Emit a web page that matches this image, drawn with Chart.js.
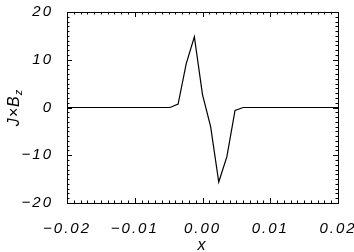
<!DOCTYPE html>
<html>
<head>
<meta charset="utf-8">
<script src="https://cdn.jsdelivr.net/npm/chart.js@4/dist/chart.umd.min.js"></script>
<style>
  html, body { margin: 0; padding: 0; background: #fff; }
  #wrap { width: 354px; height: 252px; }
</style>
</head>
<body>
<div id="wrap"><canvas id="jxbChart"></canvas></div>
<script>
// positions along x and the J x B_z values
const xValues = [-0.02, -0.0048, -0.0036, -0.0024, -0.0012, 0, 0.0012, 0.0024, 0.0036, 0.0048, 0.006, 0.02];
const jxbValues = [0, 0, 0.7, 9.2, 14.8, 2.7, -4, -15.6, -10.3, -0.6, 0, 0];

const xTicks = [-0.02, -0.01, 0, 0.01, 0.02];
const yTicks = [-20, -10, 0, 10, 20];

const fontFamily = '"Liberation Sans", Arial, sans-serif';

function fmt(v, digits) {
    if (Math.abs(v) < 1e-9) v = 0;
    const s = Math.abs(v).toFixed(digits);
    return v < 0 ? '\u2212' + s : s;
}

// IDL style: letter spaced labels, box frame with inward ticks on all sides
const idlStyle = {
    id: 'idlStyle',
    beforeLayout(chart) { chart.ctx.letterSpacing = '2px'; },
    beforeDraw(chart) { chart.ctx.letterSpacing = '2px'; },
    afterDraw(chart) {
        const ctx = chart.ctx;
        const a = chart.chartArea;
        const xs = chart.scales.x;
        const ys = chart.scales.y;
        ctx.save();
        ctx.strokeStyle = '#000';
        ctx.lineWidth = 1;
        ctx.strokeRect(Math.round(a.left) + 0.5, Math.round(a.top) + 0.5,
            Math.round(a.right - a.left), Math.round(a.bottom - a.top));

        ctx.beginPath();
        for (let i = -20; i <= 20; i++) {
            const px = Math.round(xs.getPixelForValue(i / 1000)) + 0.5;
            const len = (i % 10 === 0) ? 5 : 2.5;
            ctx.moveTo(px, a.bottom); ctx.lineTo(px, a.bottom - len);
            ctx.moveTo(px, a.top); ctx.lineTo(px, a.top + len);
        }
        for (let v = -20; v <= 20; v++) {
            const py = Math.round(ys.getPixelForValue(v)) + 0.5;
            const len = (v % 10 === 0) ? 5 : 2.5;
            ctx.moveTo(a.left, py); ctx.lineTo(a.left + len, py);
            ctx.moveTo(a.right, py); ctx.lineTo(a.right - len, py);
        }
        ctx.stroke();

        // y title J×B with subscript z
        ctx.letterSpacing = '1px';
        ctx.fillStyle = '#000';
        ctx.translate(13, (a.top + a.bottom) / 2);
        ctx.rotate(-Math.PI / 2);
        ctx.font = 'italic 16px ' + fontFamily;
        ctx.textBaseline = 'alphabetic';
        const main = 'J\u00d7B';
        const w1 = ctx.measureText(main).width;
        ctx.font = 'italic 11px ' + fontFamily;
        const w2 = ctx.measureText('z').width;
        const x0 = -(w1 + w2) / 2;
        ctx.font = 'italic 16px ' + fontFamily;
        ctx.fillText(main, x0, 6);
        ctx.font = 'italic 11px ' + fontFamily;
        ctx.fillText('z', x0 + w1, 9);
        ctx.restore();
    }
};

new Chart(document.getElementById('jxbChart'), {
    type: 'scatter',
    data: {
        datasets: [{
            data: xValues.map((x, i) => ({ x: x, y: jxbValues[i] })),
            showLine: true,
            borderColor: '#000',
            borderWidth: 1.2,
            pointRadius: 0,
            fill: false,
            tension: 0
        }]
    },
    options: {
        responsive: true,
        maintainAspectRatio: false,
        animation: false,
        layout: { padding: { left: 0, top: 12, right: 16, bottom: 0 } },
        plugins: { legend: { display: false }, tooltip: { enabled: false } },
        scales: {
            x: {
                type: 'linear',
                min: -0.02,
                max: 0.02,
                afterBuildTicks: s => { s.ticks = xTicks.map(v => ({ value: v })); },
                afterFit: s => { s.height = 49; s.paddingLeft = 0; s.paddingRight = 0; },
                grid: { display: false },
                border: { display: false },
                ticks: {
                    color: '#000',
                    padding: 9,
                    maxRotation: 0,
                    autoSkip: false,
                    font: { family: fontFamily, size: 15, style: 'italic' },
                    callback: v => fmt(v, 2)
                },
                title: {
                    display: true,
                    text: 'x',
                    color: '#000',
                    padding: { top: 0, bottom: -3 },
                    font: { family: fontFamily, size: 16, style: 'italic' }
                }
            },
            y: {
                type: 'linear',
                min: -20,
                max: 20,
                afterBuildTicks: s => { s.ticks = yTicks.map(v => ({ value: v })); },
                afterFit: s => { s.width = 67; s.paddingTop = 0; s.paddingBottom = 0; },
                grid: { display: false },
                border: { display: false },
                ticks: {
                    color: '#000',
                    padding: 6,
                    autoSkip: false,
                    font: { family: fontFamily, size: 15, style: 'italic' },
                    callback: v => fmt(v, 0)
                }
            }
        }
    },
    plugins: [idlStyle]
});
</script>
</body>
</html>
